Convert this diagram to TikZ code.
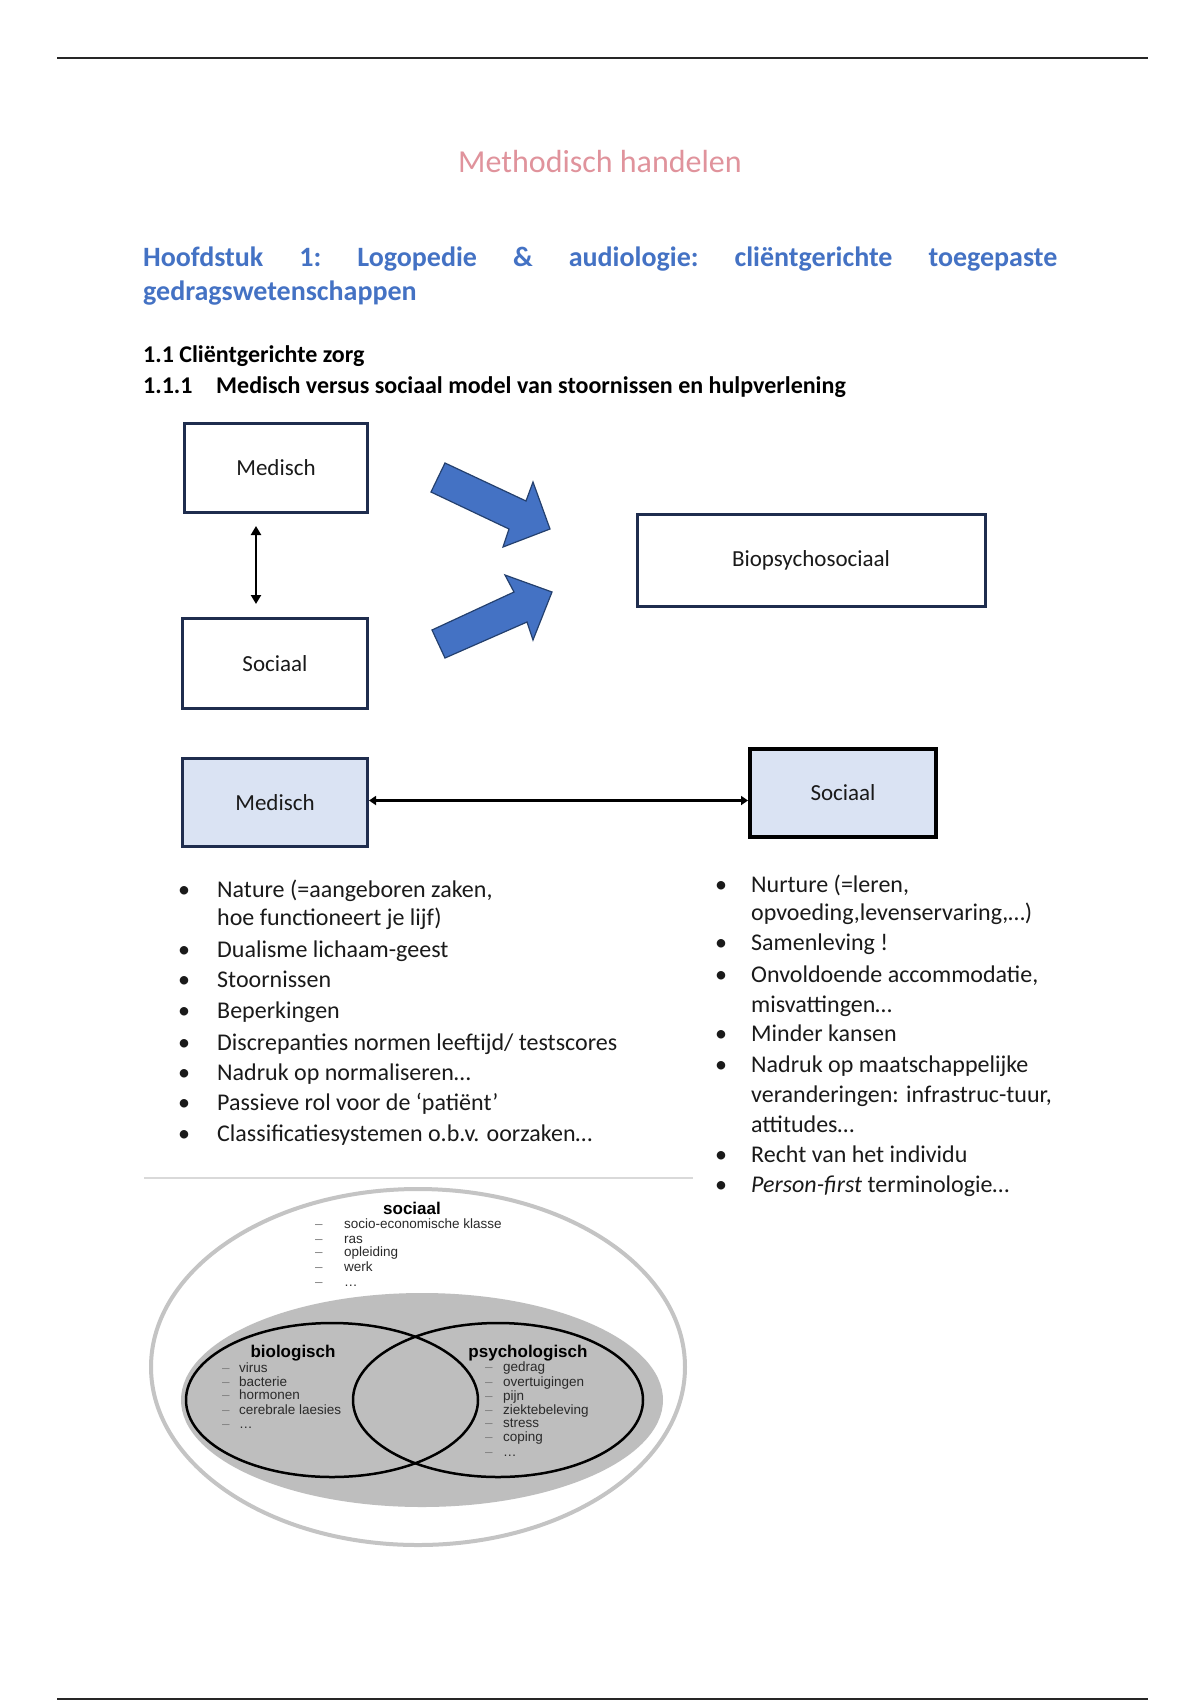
\documentclass[tikz,border=0pt]{standalone}
\usepackage{fontspec}
\setmainfont{Carlito}
\newfontfamily\vennfont{Liberation Sans}
\usetikzlibrary{arrows.meta}
\definecolor{titlepink}{HTML}{E0939C}
\definecolor{headblue}{HTML}{4472C4}
\definecolor{navy}{HTML}{1F2D4E}
\definecolor{boxfill}{HTML}{DAE3F3}
\definecolor{arrowblue}{HTML}{4472C4}
\definecolor{arrowedge}{HTML}{24406E}
\definecolor{txtc}{HTML}{1A1A1A}
\definecolor{vgray}{HTML}{BEBEBE}
\definecolor{vring}{HTML}{C4C4C4}
\definecolor{vitem}{HTML}{2A2A2A}
\begin{document}
\begin{tikzpicture}[x=1pt,y=-1pt,
  body/.style={inner sep=0pt, anchor=base west, text=txtc, font=\fontsize{24}{29}\selectfont},
  bul/.style={inner sep=0pt, anchor=base, text=txtc, font=\fontsize{24}{29}\selectfont},
  boxnode/.style={draw=navy, line width=3pt, inner sep=0pt, text=txtc, font=\fontsize{23}{28}\selectfont},
  dblarrow/.style={line width=2.5pt, draw=black, {Triangle[width=10pt,length=9pt]}-{Triangle[width=10pt,length=9pt]}},
  bigarrow/.style={fill=arrowblue, draw=arrowedge, line width=1.2pt, line join=miter},
  vhead/.style={inner sep=0pt, anchor=base, font=\vennfont\bfseries\fontsize{17}{20}\selectfont, text=black},
  vitemst/.style={inner sep=0pt, anchor=base west, font=\vennfont\fontsize{13.5}{15}\selectfont, text=vitem},
  vdash/.style={inner sep=0pt, anchor=base west, font=\vennfont\fontsize{13.5}{15}\selectfont, text=gray},
  rule/.style={line width=2.5pt, draw=black!85},
  sect/.style={inner sep=0pt, anchor=base west, text=black, font=\bfseries\fontsize{24}{29}\selectfont}
]
\useasboundingbox (0,0) rectangle (1200,1700);
\fill[white] (0,0) rectangle (1200,1700);

% page rules
\draw[rule] (57,58) -- (1148,58);
\draw[rule] (57,1699) -- (1148,1699);

% title and headings
\node[inner sep=0pt, anchor=base, text=titlepink, font=\fontsize{32}{38}\selectfont] (title) at (600,172) {Methodisch handelen};
\node[inner sep=0pt, anchor=base west, text=headblue, font=\bfseries\fontsize{28}{34}\selectfont] (h1) at (143,266)
  {\hbox to 914pt{Hoofdstuk\hfill 1:\hfill Logopedie\hfill \&\hfill audiologie:\hfill cliëntgerichte\hfill toegepaste}};
\node[inner sep=0pt, anchor=base west, text=headblue, font=\bfseries\fontsize{28}{34}\selectfont] (h2) at (143,300) {gedragswetenschappen};
\node[sect] (s1) at (143,362) {1.1 Cliëntgerichte zorg};
\node[sect] (s2n) at (143,393) {1.1.1};
\node[sect] (s2) at (216,393) {Medisch versus sociaal model van stoornissen en hulpverlening};

% top diagram
\node[boxnode, minimum width=183pt, minimum height=89pt] (med1) at (276,468) {Medisch};
\node[boxnode, minimum width=185pt, minimum height=90pt] (soc1) at (275,663.5) {Sociaal};
\node[boxnode, minimum width=348pt, minimum height=92pt] (bio) at (811,560) {Biopsychosociaal};
\draw[dblarrow] ([xshift=-20pt,yshift=-12pt]med1.south) -- ([xshift=-19pt,yshift=13pt]soc1.north);

\draw[bigarrow] (445,463) -- (526,501) -- (533,482) -- (550,529) -- (503,547) -- (509,529) -- (431,492) -- cycle;
\draw[bigarrow] (432,630) -- (514,592) -- (505,575) -- (552,592) -- (533,640) -- (527,622) -- (445,658) -- cycle;

% second diagram
\node[boxnode, fill=boxfill, minimum width=185pt, minimum height=88pt] (med2) at (275,802.5) {Medisch};
\node[boxnode, draw=black, line width=4pt, fill=boxfill, minimum width=186pt, minimum height=88pt] (soc2) at (843,793) {Sociaal};
\draw[line width=2.5pt, {Triangle[width=9pt,length=7pt]}-{Triangle[width=9pt,length=7pt]}] ([yshift=2pt]med2.east) -- ([yshift=2pt]med2.east -| soc2.west);

% left bullets
\foreach \y/\t [count=\i] in {897/{Nature (=aangeboren zaken,},
  957/{Dualisme lichaam-geest}, 987/{Stoornissen}, 1018/{Beperkingen},
  1050/{Discrepanties normen leeftijd/ testscores}, 1080/{Nadruk op normaliseren…},
  1110/{Passieve rol voor de ‘patiënt’}, 1141/{Classificatiesystemen o.b.v. oorzaken…}}{
  \node[bul] (lb\i) at (184,\y) {•};
  \node[body] (lt\i) at (217,\y) {\t};
}
\node[body] (lt1b) at (217,925) {hoe functioneert je lijf)};

% right bullets
\foreach \y/\t [count=\i] in {892/{Nurture (=leren,}, 950/{Samenleving !},
  982/{Onvoldoende accommodatie,}, 1041/{Minder kansen},
  1072/{Nadruk op maatschappelijke}, 1162/{Recht van het individu},
  1192/{\textit{Person-first} terminologie…}}{
  \node[bul] (rb\i) at (721,\y) {•};
  \node[body] (rt\i) at (751,\y) {\t};
}
\node[body] (rt1b) at (751,920) {opvoeding,levenservaring,…)};
\node[body] (rt3b) at (751,1012) {misvattingen…};
\node[body] (rt5b) at (751,1102) {veranderingen: infrastruc-tuur,};
\node[body] (rt5c) at (751,1132) {attitudes…};

% separator
\draw[line width=2pt, draw=black!15] (144,1178) -- (693,1178);

% Venn figure
\draw[line width=4pt, draw=vring] (418,1367) ellipse [x radius=267, y radius=178];
\fill[vgray] (422,1400) ellipse [x radius=241, y radius=107];
\draw[line width=2.5pt] (332,1400) ellipse [x radius=146, y radius=77];
\draw[line width=2.5pt] (498,1400) ellipse [x radius=145, y radius=77];

\node[vhead] (vsoc) at (412,1214) {sociaal};
\foreach \y/\t [count=\i] in {1228/{socio-economische klasse}, 1243/{ras}, 1256/{opleiding}, 1271/{werk}, 1286/{…}}{
  \node[vdash] (vsd\i) at (315,\y) {–};
  \node[vitemst] (vst\i) at (344,\y) {\t};
}
\node[vhead] (vbio) at (293,1357) {biologisch};
\foreach \y/\t [count=\i] in {1372/{virus}, 1386/{bacterie}, 1399/{hormonen}, 1414/{cerebrale laesies}, 1428/{…}}{
  \node[vdash] (vbd\i) at (222,\y) {–};
  \node[vitemst] (vbt\i) at (239,\y) {\t};
}
\node[vhead] (vpsy) at (528,1357) {psychologisch};
\foreach \y/\t [count=\i] in {1371/{gedrag}, 1386/{overtuigingen}, 1400/{pijn}, 1414/{ziektebeleving}, 1427/{stress}, 1441/{coping}, 1456/{…}}{
  \node[vdash] (vpd\i) at (485,\y) {–};
  \node[vitemst] (vpt\i) at (503,\y) {\t};
}
\end{tikzpicture}
\end{document}
